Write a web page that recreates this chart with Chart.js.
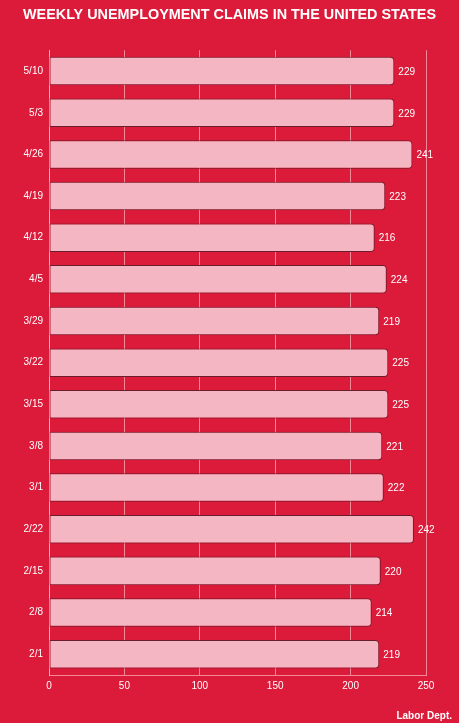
<!DOCTYPE html>
<html>
<head>
<meta charset="utf-8">
<script src="https://cdn.jsdelivr.net/npm/chart.js@4/dist/chart.umd.min.js"></script>
<style>
  html, body { margin: 0; padding: 0; background: #dc1a3a; }
  #wrap { position: relative; width: 459px; height: 723px; }
  #src { position: absolute; right: 7px; bottom: 1px; color: #fff; font: bold 10px "Liberation Sans", Arial, sans-serif; line-height: 12px; }
</style>
</head>
<body>
<div id="wrap">
  <canvas id="c" width="459" height="723"></canvas>
  <div id="src">Labor Dept.</div>
</div>
<script>
const weeks = ["5/10","5/3","4/26","4/19","4/12","4/5","3/29","3/22","3/15","3/8","3/1","2/22","2/15","2/8","2/1"];
const claims = [229,229,241,223,216,224,219,225,225,221,222,242,220,214,219];
const xTicks = [0,50,100,150,200,250];

const FONT = "'Liberation Sans', Arial, Helvetica, sans-serif";
const GRID = 'rgba(255,195,205,0.65)';

const valueLabels = {
  id: 'valueLabels',
  afterDatasetsDraw(chart) {
    const ctx = chart.ctx;
    const meta = chart.getDatasetMeta(0);
    ctx.save();
    ctx.fillStyle = '#ffffff';
    ctx.font = '10px ' + FONT;
    ctx.textAlign = 'left';
    ctx.textBaseline = 'middle';
    meta.data.forEach((bar, i) => {
      ctx.fillText(String(claims[i]), bar.x + 4, bar.y + 1);
    });
    ctx.restore();
  }
};

new Chart(document.getElementById('c'), {
  type: 'bar',
  data: {
    labels: weeks,
    datasets: [{
      data: claims,
      backgroundColor: '#f4b6c2',
      borderColor: '#6a1d2b',
      borderWidth: 1,
      borderSkipped: false,
      borderRadius: {topLeft: 0, bottomLeft: 0, topRight: 4, bottomRight: 4},
      categoryPercentage: 1,
      barPercentage: 0.685
    }]
  },
  options: {
    indexAxis: 'y',
    responsive: false,
    animation: false,
    devicePixelRatio: 1,
    layout: { padding: { left: 0, right: 0, top: 0, bottom: 0 } },
    plugins: {
      legend: { display: false },
      tooltip: { enabled: false },
      title: {
        display: true,
        text: 'WEEKLY UNEMPLOYMENT CLAIMS IN THE UNITED STATES',
        color: '#ffffff',
        font: { family: FONT, size: 14.4, weight: 'bold', lineHeight: 1.2 },
        padding: { top: 6, bottom: 27 }
      }
    },
    scales: {
      x: {
        min: 0, max: 250,
        afterBuildTicks: s => { s.ticks = xTicks.map(v => ({ value: v })); },
        afterFit: s => { s.height = 48; },
        grid: { color: GRID, lineWidth: 1, drawTicks: false },
        border: { display: true, color: GRID, width: 1 },
        ticks: { color: '#ffffff', font: { family: FONT, size: 10 }, padding: 5, maxRotation: 0 }
      },
      y: {
        afterFit: s => { s.width = 49; },
        grid: { display: false, drawTicks: false },
        border: { display: true, color: GRID, width: 1 },
        ticks: { color: '#ffffff', font: { family: FONT, size: 10 }, padding: 6 }
      },
      yr: {
        position: 'right',
        afterFit: s => { s.width = 33; },
        grid: { display: false, drawTicks: false },
        border: { display: false },
        ticks: { display: false }
      }
    }
  },
  plugins: [valueLabels]
});
</script>
</body>
</html>
